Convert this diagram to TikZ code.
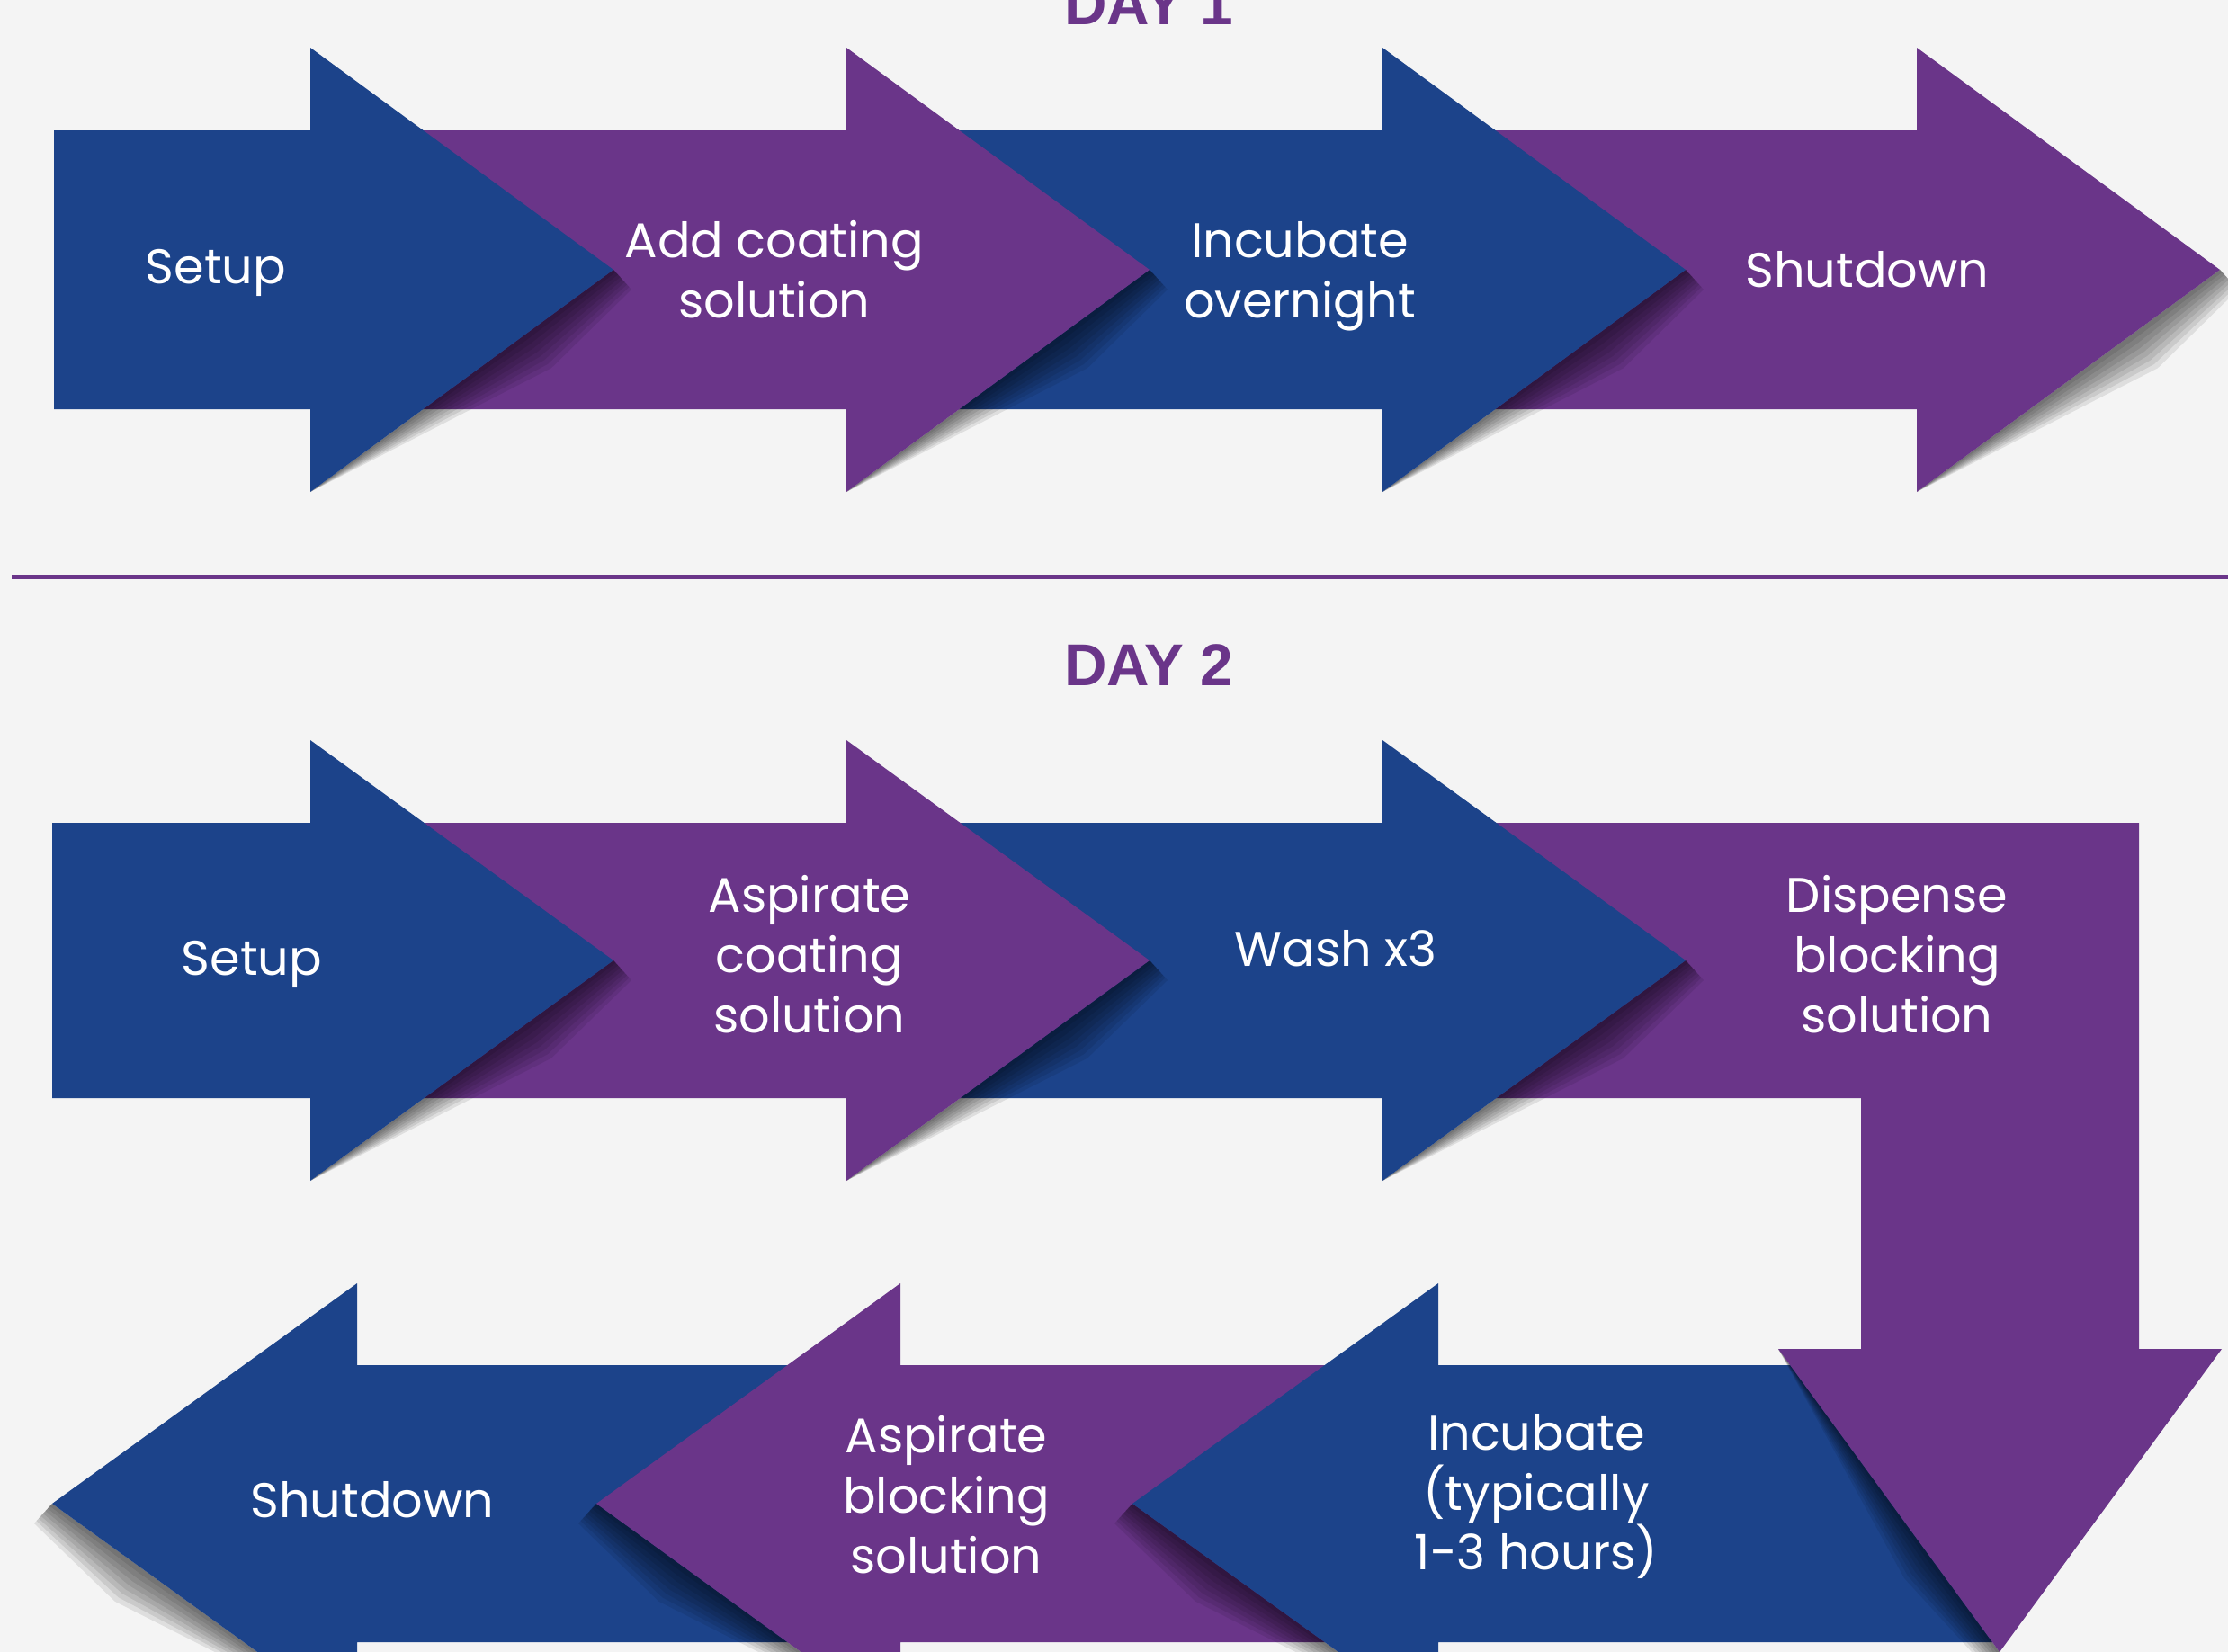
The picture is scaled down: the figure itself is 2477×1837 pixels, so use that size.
\documentclass[tikz,border=0pt]{standalone}
\usepackage{fontspec}
\setmainfont{Poppins}
\newfontfamily\headfont{Liberation Sans}
\usetikzlibrary{calc}

\definecolor{stepblue}{RGB}{28,67,138}
\definecolor{steppurple}{RGB}{106,53,137}
\definecolor{paper}{RGB}{244,244,244}

% soft shadow under one slanted edge of an arrow head
\newcommand{\headshadow}[3]{%
  \foreach \sfac/\mfac in {0.125/0.2,0.25/0.4,0.375/0.6,0.5/0.8,0.625/1,0.75/1.2,0.875/1.4,1/1.6}
    \fill[black, opacity=0.085] (#1) -- (#2) -- ($(#2)+\sfac*(#3)$)
      -- ($(#1)!0.7!(#2)+\mfac*(#3)$) -- cycle;}

\begin{document}
\begin{tikzpicture}[x=0.1mm, y=-0.1mm,
    lbl/.style = {text=white, align=center, font=\fontsize{15.4}{19}\selectfont},
    daytitle/.style = {text=steppurple, font=\headfont\bfseries\fontsize{18.7}{22}\selectfont}]
	\useasboundingbox (0,0) rectangle (2477,1837);
	\clip (0,0) rectangle (2477,1837);
	\fill[paper] (0,0) rectangle (2477,1837);

	% day 1
	\headshadow{2131,547}{2468,300}{20,22}
	\fill[steppurple] (1537,145) -- (2131,145) -- (2131,53) -- (2468,300) -- (2131,547) -- (2131,455) -- (1537,455) -- cycle;
	\headshadow{1537,547}{1874,300}{20,22}
	\fill[stepblue] (941,145) -- (1537,145) -- (1537,53) -- (1874,300) -- (1537,547) -- (1537,455) -- (941,455) -- cycle;
	\headshadow{941,547}{1278,300}{20,22}
	\fill[steppurple] (345,145) -- (941,145) -- (941,53) -- (1278,300) -- (941,547) -- (941,455) -- (345,455) -- cycle;
	\headshadow{345,547}{682,300}{20,22}
	\fill[stepblue] (60,145) -- (345,145) -- (345,53) -- (682,300) -- (345,547) -- (345,455) -- (60,455) -- cycle;

	\node[daytitle, anchor=base] (day1) at (1277,27) {DAY 1};
	\node[lbl] (setup1) at (240,303) {Setup};
	\node[lbl] (coat1) at (861,300) {Add coating\\solution};
	\node[lbl] (incub1) at (1445,307) {Incubate\\overnight};
	\node[lbl] (shut1) at (2076,300) {Shutdown};

	\draw[steppurple, line width=0.5mm] (13,641) -- (2477,641);

	% day 2, lower row (pointing left)
	\headshadow{397,1917}{58,1672}{-20,22}
	\fill[stepblue] (58,1672) -- (397,1427) -- (397,1518) -- (1001,1518) -- (1001,1826) -- (397,1826) -- (397,1917) -- cycle;
	\headshadow{1001,1917}{663,1672}{-20,22}
	\fill[steppurple] (663,1672) -- (1001,1427) -- (1001,1518) -- (1599,1518) -- (1599,1826) -- (1001,1826) -- (1001,1917) -- cycle;
	\headshadow{1599,1917}{1259,1672}{-20,22}
	\fill[stepblue] (1259,1672) -- (1599,1427) -- (1599,1518) -- (2223,1518) -- (2223,1826) -- (1599,1826) -- (1599,1917) -- cycle;

	% day 2, upper row and the bend
	\headshadow{1977,1500}{2223,1837}{-20,12}
	\fill[steppurple] (1537,915) -- (2378,915) -- (2378,1500) -- (2470,1500) -- (2223,1837) -- (1977,1500) -- (2069,1500) -- (2069,1221) -- (1537,1221) -- cycle;
	\headshadow{1537,1313}{1874,1068}{20,22}
	\fill[stepblue] (941,915) -- (1537,915) -- (1537,823) -- (1874,1068) -- (1537,1313) -- (1537,1221) -- (941,1221) -- cycle;
	\headshadow{941,1313}{1278,1068}{20,22}
	\fill[steppurple] (345,915) -- (941,915) -- (941,823) -- (1278,1068) -- (941,1313) -- (941,1221) -- (345,1221) -- cycle;
	\headshadow{345,1313}{682,1068}{20,22}
	\fill[stepblue] (58,915) -- (345,915) -- (345,823) -- (682,1068) -- (345,1313) -- (345,1221) -- (58,1221) -- cycle;

	\node[daytitle, anchor=base] (day2) at (1277,762) {DAY 2};
	\node[lbl] (setup2) at (280,1072) {Setup};
	\node[lbl] (aspcoat) at (900,1061) {Aspirate\\coating\\solution};
	\node[lbl] (wash) at (1485,1055) {Wash x3};
	\node[lbl] (dispense) at (2109,1061) {Dispense\\blocking\\solution};
	\node[lbl] (shut2) at (414,1668) {Shutdown};
	\node[lbl] (aspblock) at (1052,1662) {Aspirate\\blocking\\solution};
	\node[lbl] (incub2) at (1708,1664) {Incubate\\(typically\\1-3 hours)};
\end{tikzpicture}
\end{document}
